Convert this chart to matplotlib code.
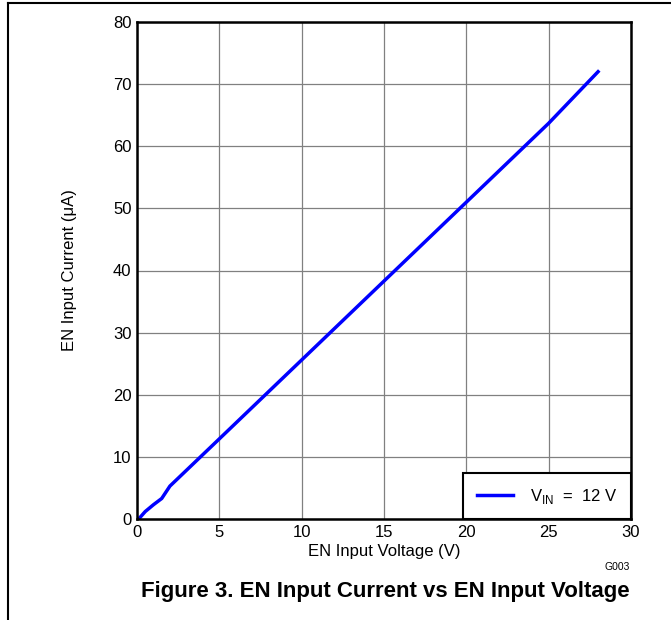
import matplotlib.pyplot as plt
from matplotlib.lines import Line2D

plt.rcParams['font.family'] = ['Liberation Sans', 'DejaVu Sans']

# EN input voltage (V) and EN input current (uA), VIN = 12 V
en_voltage = [0.1, 0.5, 1.0, 1.5, 2.0, 5, 10, 15, 20, 25, 28]
en_current = [0.0, 1.2, 2.3, 3.3, 5.3, 12.9, 25.6, 38.3, 51.0, 63.7, 72.0]

x_ticks = [0, 5, 10, 15, 20, 25, 30]
y_ticks = [0, 10, 20, 30, 40, 50, 60, 70, 80]

fig = plt.figure(figsize=(6.71, 6.2), dpi=100)

# page frame (left and top rules)
fig.add_artist(Line2D([8 / 671, 8 / 671], [0, 1 - 3 / 620], color='black', lw=1.5))
fig.add_artist(Line2D([8 / 671, 1], [1 - 3 / 620, 1 - 3 / 620], color='black', lw=1.5))

ax = fig.add_axes([137 / 671, 1 - 519 / 620, 494 / 671, 497 / 620])
ax.plot(en_voltage, en_current, color='#0000ff', lw=2.5, label='V$_{\\mathregular{IN}}$  =  12 V')

ax.set_xlim(0, 30)
ax.set_ylim(0, 80)
ax.set_xticks(x_ticks)
ax.set_yticks(y_ticks)
ax.tick_params(length=0, labelsize=12, pad=4)
ax.grid(True, color='#808080', lw=0.9)
for s in ax.spines.values():
    s.set_linewidth(1.8)

ax.set_xlabel('EN Input Voltage (V)', fontsize=12, labelpad=3)
ax.set_ylabel('EN Input Current (μA)', fontsize=12, labelpad=26)

leg = ax.legend(loc='lower right', borderaxespad=0, fancybox=False, fontsize=12,
                handlelength=2.2, borderpad=0.8, handletextpad=1.0)
leg.get_frame().set_edgecolor('black')
leg.get_frame().set_linewidth(1.5)
leg.get_frame().set_alpha(1)

fig.text(630 / 671, 1 - 567 / 620, 'G003', fontsize=7.5, ha='right', va='center')
fig.text(385 / 671, 1 - 592 / 620, 'Figure 3. EN Input Current vs EN Input Voltage',
         fontsize=16, fontweight='bold', ha='center', va='center')

fig.savefig('out.png', dpi=100)
